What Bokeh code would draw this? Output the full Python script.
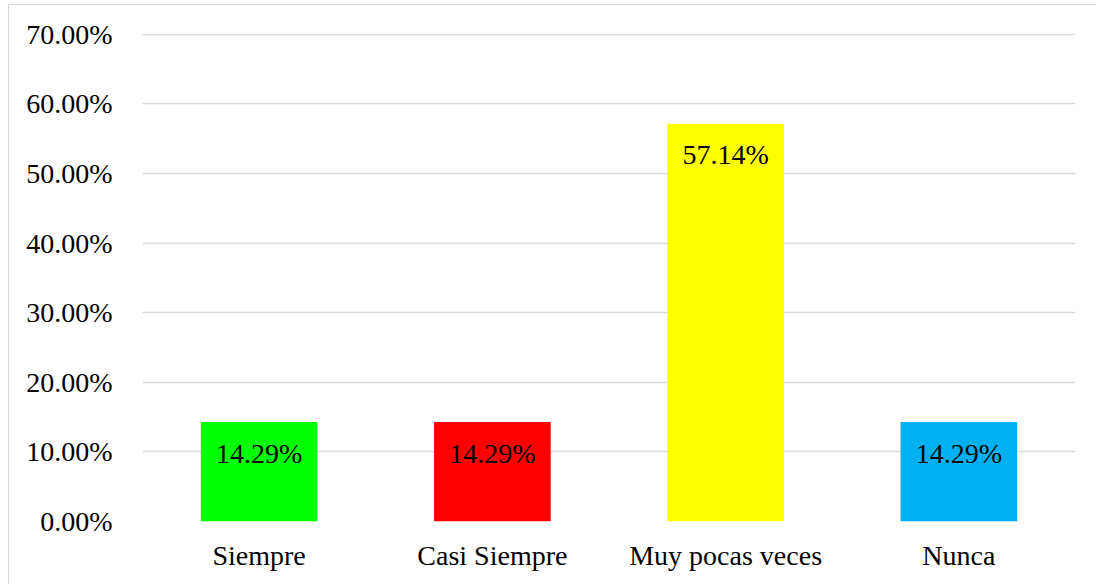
from bokeh.plotting import figure
from bokeh.models import ColumnDataSource, NumeralTickFormatter, FixedTicker
from bokeh.core.properties import value
from bokeh.embed import file_html
from bokeh.resources import INLINE

categories = ["Siempre", "Casi Siempre", "Muy pocas veces", "Nunca"]
values = [0.1429, 0.1429, 0.5714, 0.1429]
labels = ["14.29%", "14.29%", "57.14%", "14.29%"]
colors = ["#00ff00", "#ff0000", "#ffff00", "#00b0f0"]
y_ticks = [0, 0.1, 0.2, 0.3, 0.4, 0.5, 0.6, 0.7]

src = ColumnDataSource(dict(cat=categories, val=values, lab=labels, col=colors))

p = figure(x_range=categories, y_range=(0, 0.701), width=1088, height=580,
           output_backend="svg", toolbar_location=None,
           min_border_left=133, min_border_right=22, min_border_top=28, min_border_bottom=64)
p.x_range.range_padding = 0
p.styles = {"margin-left": "8px", "margin-top": "4px",
            "border-top": "1.5px solid #d9d9d9", "border-left": "1.5px solid #d9d9d9"}
p.outline_line_color = None

p.vbar(x="cat", top="val", width=0.5, fill_color="col", line_color=None, source=src)
p.text(x="cat", y="val", text="lab", source=src, text_align="center", text_baseline="middle",
       y_offset=31, text_font=value("Liberation Serif"), text_font_size="28px", text_color="black")

font = "Liberation Serif"
p.yaxis.ticker = FixedTicker(ticks=y_ticks)
p.yaxis.formatter = NumeralTickFormatter(format="0.00%")
for ax in (p.xaxis, p.yaxis):
    ax.axis_line_color = None
    ax.major_tick_line_color = None
    ax.minor_tick_line_color = None
    ax.major_label_text_font = font
    ax.major_label_text_font_size = "28px"
    ax.major_label_text_color = "black"
p.yaxis.major_label_standoff = 24
p.xaxis.major_label_standoff = 12
p.xgrid.grid_line_color = None
p.ygrid.grid_line_color = "#d9d9d9"
p.ygrid.grid_line_width = 1.5

open("out.html", "w").write(file_html(p, INLINE))
